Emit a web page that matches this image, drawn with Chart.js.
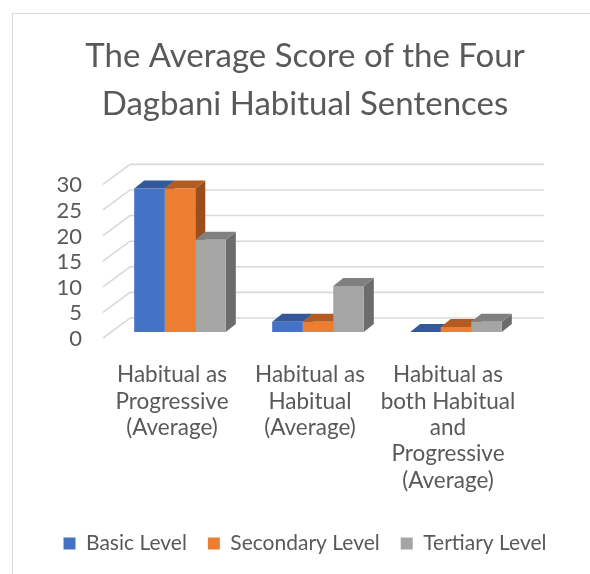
<!DOCTYPE html>
<html>
<head>
<meta charset="utf-8">
<script src="https://cdn.jsdelivr.net/npm/chart.js@4.4.0/dist/chart.umd.min.js"></script>
<style>
    html, body { margin: 0; padding: 0; background: #fff; }
    #frame { position: absolute; left: 12px; top: 13px; width: 620px; height: 620px; border: 1px solid #d9d9d9; }
    #chart { position: absolute; left: 0; top: 0; }
</style>
</head>
<body>
<div id="frame"></div>
<canvas id="chart" width="590" height="574"></canvas>
<script>
// ---- data ----
const categories = [
    ['Habitual as', 'Progressive', '(Average)'],
    ['Habitual as', 'Habitual', '(Average)'],
    ['Habitual as', 'both Habitual', 'and', 'Progressive', '(Average)']
];
const seriesNames = ['Basic Level', 'Secondary Level', 'Tertiary Level'];
const basicLevel = [28, 2, 0];
const secondaryLevel = [28, 2, 1];
const tertiaryLevel = [18, 9, 2];
const yTicks = [0, 5, 10, 15, 20, 25, 30];

// ---- styles ----
const frontColors = ['#4472C4', '#ED7D31', '#A5A5A5'];
const topColors = ['#34589A', '#B35C22', '#808080'];
const sideColors = ['#2B4A82', '#9A4E1B', '#6C6C6C'];
const textColor = '#595959';
const FONT = "Lato, 'Open Sans', sans-serif";

// fake perspective offsets, relative to the plane the bars stand in
const BAR_DEPTH = { dx: 10, dy: -8 };
const FRONT = { dx: -8, dy: 6 };
const WALL = { dx: 19, dy: -14 };

// draws back wall, side walls and the top/side faces of every column
const depth3d = {
    id: 'depth3d',
    beforeDatasetsDraw(chart) {
        const { ctx, chartArea: a } = chart;
        const y = chart.scales.y;
        ctx.save();
        ctx.strokeStyle = '#d9d9d9';
        ctx.lineWidth = 1.6;
        yTicks.forEach(v => {
            const py = y.getPixelForValue(v);
            ctx.beginPath();
            ctx.moveTo(a.left + FRONT.dx, py + FRONT.dy);
            ctx.lineTo(a.left + WALL.dx, py + WALL.dy);
            ctx.lineTo(a.right + WALL.dx, py + WALL.dy);
            ctx.stroke();
        });

        chart.data.datasets.forEach((ds, i) => {
            const meta = chart.getDatasetMeta(i);
            meta.data.forEach(bar => {
                const { x, y: top, base, width } = bar.getProps(['x', 'y', 'base', 'width'], true);
                const l = x - width / 2;
                const r = x + width / 2;
                // side face
                ctx.fillStyle = sideColors[i];
                ctx.beginPath();
                ctx.moveTo(r, base);
                ctx.lineTo(r + BAR_DEPTH.dx, base + BAR_DEPTH.dy);
                ctx.lineTo(r + BAR_DEPTH.dx, top + BAR_DEPTH.dy);
                ctx.lineTo(r, top);
                ctx.closePath();
                ctx.fill();
                // top face
                ctx.fillStyle = topColors[i];
                ctx.beginPath();
                ctx.moveTo(l, top);
                ctx.lineTo(l + BAR_DEPTH.dx, top + BAR_DEPTH.dy);
                ctx.lineTo(r + BAR_DEPTH.dx, top + BAR_DEPTH.dy);
                ctx.lineTo(r, top);
                ctx.closePath();
                ctx.fill();
            });
        });
        ctx.restore();
    }
};

const seriesData = [basicLevel, secondaryLevel, tertiaryLevel];

new Chart(document.getElementById('chart').getContext('2d'), {
    type: 'bar',
    data: {
        labels: categories,
        datasets: seriesNames.map((name, i) => ({
            label: name,
            data: seriesData[i],
            backgroundColor: frontColors[i],
            borderWidth: 0,
            barPercentage: 1,
            categoryPercentage: 0.664
        }))
    },
    options: {
        responsive: false,
        animation: false,
        layout: { padding: { left: 20, right: 0, top: 0, bottom: 10 } },
        plugins: {
            title: {
                display: true,
                text: ['The Average Score of the Four', 'Dagbani Habitual Sentences'],
                color: textColor,
                font: { family: FONT, size: 33, weight: 'normal', lineHeight: 1.46 },
                padding: { top: 32, bottom: 50 }
            },
            legend: {
                position: 'bottom',
                labels: {
                    color: textColor,
                    boxWidth: 12,
                    boxHeight: 12,
                    padding: 21,
                    font: { family: FONT, size: 21 }
                }
            },
            tooltip: { enabled: false }
        },
        scales: {
            x: {
                grid: { display: false, drawTicks: false },
                border: { display: false },
                ticks: {
                    color: textColor,
                    font: { family: FONT, size: 22.5, lineHeight: 1.17 },
                    padding: 30,
                    labelOffset: -8,
                    maxRotation: 0,
                    autoSkip: false
                },
                afterFit(scale) { scale.height = 180; }
            },
            y: {
                min: 0,
                max: 30,
                grid: { display: false, drawTicks: false },
                border: { display: false },
                ticks: {
                    stepSize: 5,
                    autoSkip: false,
                    color: textColor,
                    font: { family: FONT, size: 22 },
                    padding: 29,
                    labelOffset: 7
                },
                afterFit(scale) { scale.width = 91; }
            },
            y2: {
                position: 'right',
                grid: { display: false, drawTicks: false },
                border: { display: false },
                ticks: { display: false },
                afterFit(scale) { scale.width = 65; }
            }
        }
    },
    plugins: [depth3d]
});
</script>
</body>
</html>
